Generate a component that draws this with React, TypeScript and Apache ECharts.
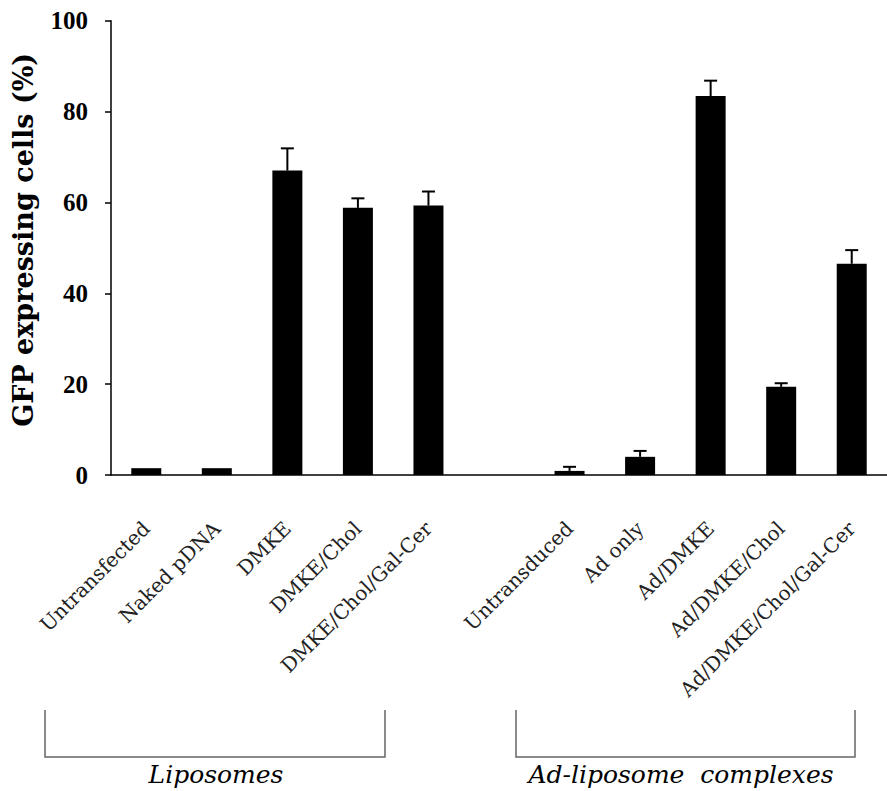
import React, { useEffect, useRef } from "react";
import * as echarts from "echarts";

const categories = [
  "Untransfected",
  "Naked pDNA",
  "DMKE",
  "DMKE/Chol",
  "DMKE/Chol/Gal-Cer",
  "",
  "Untransduced",
  "Ad only",
  "Ad/DMKE",
  "Ad/DMKE/Chol",
  "Ad/DMKE/Chol/Gal-Cer",
];
const values: (number | null)[] = [1.5, 1.5, 67.0, 58.8, 59.3, null, 0.9, 4.0, 83.4, 19.4, 46.5];
const errors: (number | null)[] = [0, 0, 4.9, 2.1, 3.1, null, 0.9, 1.3, 3.4, 0.8, 3.0];
const yTicks = { min: 0, max: 100, interval: 20 };
const groupLabels = ["Liposomes", "Ad-liposome  complexes"];

export default function App() {
  const ref = useRef<HTMLDivElement>(null);
  useEffect(() => {
    if (!ref.current) return;
    const chart = echarts.init(ref.current, null, { renderer: "svg" });
    const errData: any[] = [];
    values.forEach((v, i) => {
      const e = errors[i];
      if (v != null && e != null && e > 0) errData.push([i, v, v + e]);
    });
    const bracket = (x1: number, x2: number) => ({
      type: "polyline",
      shape: { points: [[x1, 710], [x1, 757], [x2, 757], [x2, 710]] },
      style: { stroke: "#666", lineWidth: 1.5, fill: null },
      silent: true,
    });
    chart.setOption({
      animation: false,
      backgroundColor: "#fff",
      grid: { left: 111, top: 20.7, right: -7, bottom: 791 - 475 },
      xAxis: {
        type: "category",
        data: categories,
        axisLine: { lineStyle: { color: "#000", width: 1.5 } },
        axisTick: { length: 8, lineStyle: { color: "#777", width: 1.5 } },
        axisLabel: {
          rotate: 45,
          interval: 0,
          margin: 50,
          fontFamily: "DejaVu Serif",
          fontSize: 20,
          color: "#222",
        },
      },
      yAxis: {
        type: "value",
        min: yTicks.min,
        max: yTicks.max,
        interval: yTicks.interval,
        name: "GFP expressing cells (%)",
        nameLocation: "middle",
        nameRotate: 90,
        nameGap: 74,
        nameTextStyle: {
          fontFamily: "DejaVu Serif",
          fontWeight: "bold",
          fontSize: 27,
          color: "#000",
          padding: [0, 0, 0, 16],
        },
        splitLine: { show: false },
        axisLine: { show: true, lineStyle: { color: "#000", width: 1.5 } },
        axisTick: { show: true, length: 6, lineStyle: { color: "#000", width: 1.5 } },
        axisLabel: {
          margin: 23,
          fontFamily: "Liberation Serif",
          fontWeight: "bold",
          fontSize: 25,
          color: "#000",
        },
      },
      series: [
        {
          type: "bar",
          data: values,
          barWidth: 30,
          itemStyle: { color: "#000" },
        },
        {
          type: "custom",
          data: errData,
          encode: { x: 0, y: [1, 2] },
          renderItem: (params: any, api: any) => {
            const i = api.value(0);
            const lo = api.coord([i, api.value(1)]);
            const hi = api.coord([i, api.value(2)]);
            const cap = 6.5;
            return {
              type: "group",
              children: [
                {
                  type: "line",
                  shape: { x1: lo[0], y1: lo[1], x2: hi[0], y2: hi[1] },
                  style: { stroke: "#000", lineWidth: 2 },
                },
                {
                  type: "line",
                  shape: { x1: hi[0] - cap, y1: hi[1], x2: hi[0] + cap, y2: hi[1] },
                  style: { stroke: "#000", lineWidth: 2 },
                },
              ],
            };
          },
          z: 3,
        },
      ],
      graphic: [
        bracket(45, 385),
        bracket(516, 855),
        {
          type: "text",
          x: 216,
          y: 774,
          style: {
            text: groupLabels[0],
            font: "italic 25px 'DejaVu Serif'",
            fill: "#000",
            align: "center",
            verticalAlign: "middle",
          },
        },
        {
          type: "text",
          x: 681,
          y: 774,
          style: {
            text: groupLabels[1],
            font: "italic 25px 'DejaVu Serif'",
            fill: "#000",
            align: "center",
            verticalAlign: "middle",
          },
        },
      ],
    });
    return () => chart.dispose();
  }, []);
  return (
    <div
      ref={ref}
      style={{ position: "fixed", left: 0, top: 0, width: 887, height: 791, background: "#fff" }}
    />
  );
}
